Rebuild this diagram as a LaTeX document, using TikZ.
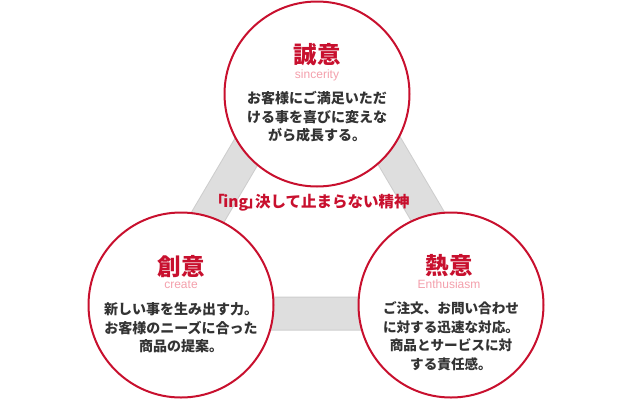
\documentclass[tikz,border=0pt]{standalone}
\usepackage{fontspec}
\setmainfont{Noto Sans CJK JP}
\newfontfamily\latinsans{Liberation Sans}
\definecolor{redc}{RGB}{200,16,46}
\definecolor{pinkc}{RGB}{244,160,172}
\definecolor{bodyc}{RGB}{51,51,51}
\definecolor{bandfill}{RGB}{222,222,222}
\definecolor{bandedge}{RGB}{205,205,205}
\begin{document}
\begin{tikzpicture}[x=1pt,y=-1pt,
  bandline/.style={line join=round},
  circ/.style={circle, draw=redc, line width=2pt, fill=white, minimum size=185pt, inner sep=0pt},
  ttl/.style={font=\fontsize{23.5}{26}\selectfont\bfseries, text=redc, inner sep=0pt},
  subt/.style={font=\latinsans\fontsize{12}{14}\selectfont, text=pinkc, inner sep=0pt},
  bodyt/.style={font=\fontsize{14}{18.5}\selectfont\bfseries, text=bodyc, align=center, inner sep=0pt},
  motto/.style={font=\fontsize{15.5}{18}\selectfont\bfseries, text=redc, inner sep=0pt}]
\useasboundingbox (0,0) rectangle (630,400);
\coordinate (A) at (318,30);
\coordinate (B) at (151,313.5);
\coordinate (C) at (485,313.5);
\draw[bandline, line width=34pt, draw=bandedge] (A) -- (B) -- (C) -- cycle;
\draw[bandline, line width=32pt, draw=bandfill] (A) -- (B) -- (C) -- cycle;
\node[circ] (sinc) at (317,94) {};
\node[circ] (crea) at (181,305) {};
\node[circ] (enth) at (451,305) {};
\node[ttl] (t1) at (317,55) {誠意};
\node[subt] (s1) at (317,75) {sincerity};
\node[bodyt] (b1) at (317,117) {お客様にご満足いただ\\ける事を喜びに変えな\\がら成長する。};
\node[ttl] (t2) at (181,267) {創意};
\node[subt] (s2) at (181,285) {create};
\node[bodyt] (b2) at (181,328) {新しい事を生み出す力。\\お客様のニーズに合った\\商品の提案。};
\node[ttl] (t3) at (449,266) {熱意};
\node[subt] (s3) at (449,284) {Enthusiasm};
\node[bodyt, font=\fontsize{13.6}{18.5}\selectfont\bfseries] (b3) at (451,336) {ご注文、お問い合わせ\\に対する迅速な対応。\\商品とサービスに対\\する責任感。};
\node[motto] (m) at (313,203) {\hspace{-0.45em}「\hspace{-0.1em}ing\hspace{-0.1em}」\hspace{-0.45em}決して止まらない精神};
\end{tikzpicture}
\end{document}
